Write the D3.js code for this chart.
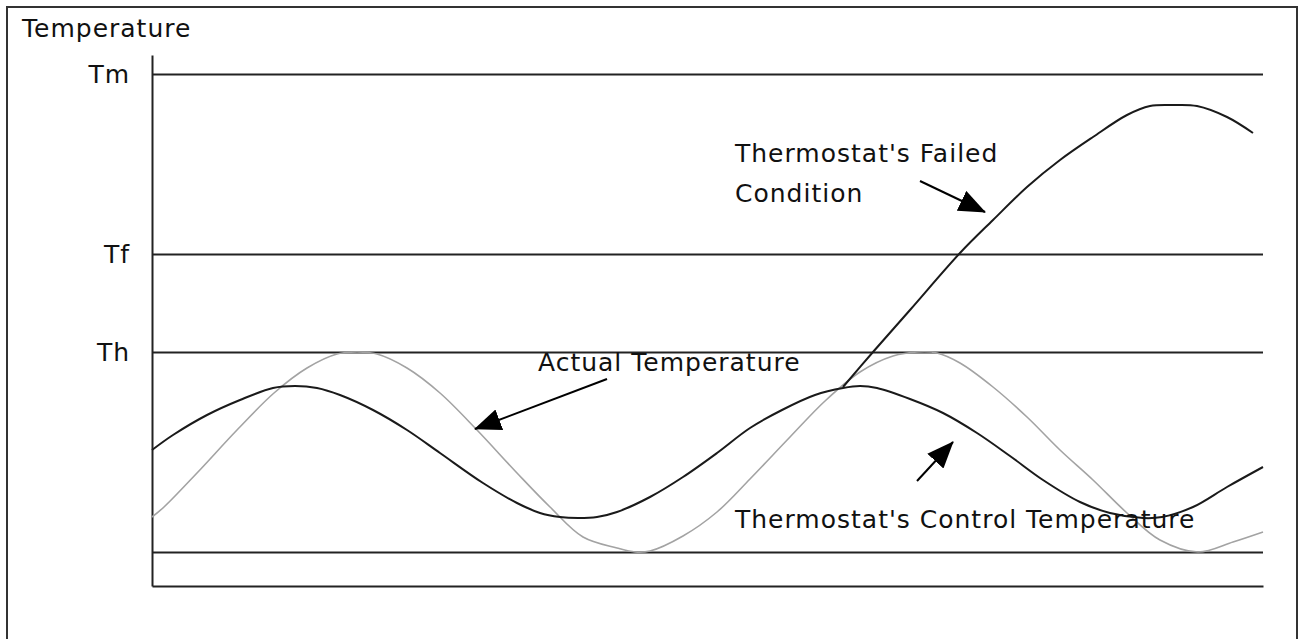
<!DOCTYPE html>
<html>
<head>
<meta charset="utf-8">
<script src="https://cdn.jsdelivr.net/npm/d3@7"></script>
<style>
    body { margin: 0; background: #fff; }
    #chart-area { width: 1302px; height: 639px; }
    text { font-family: "DejaVu Sans", sans-serif; font-size: 25px; letter-spacing: 1px; fill: #111; }
</style>
</head>
<body>
<div id="chart-area"></div>
<script>

// reference levels on the temperature axis
let levelValues = [102.4, 66.4, 46.8, 6.8];
let levelLabels = ["Tm", "Tf", "Th", ""];

// actual temperature (grey curve)
let actualX = [0, 1.2, 4.5, 8.5, 12.2, 15.5, 18.5, 20.5, 22.5, 25.5, 28.8, 32.5, 36.5, 39.8, 43.1, 46.5, 48.3, 49.8,
    53.1, 56.5, 59.8, 63.8, 67.3, 70.8, 74.1, 76.6, 78.5, 80.8, 84.1, 87.5, 90.8, 94.1, 97.5, 100.8, 104.6, 108.1, 111.1];
let actualY = [13.8, 15.8, 22.6, 31.2, 38.6, 43.6, 46.4, 46.8, 46.4, 43.6, 38.6, 31.2, 22.6, 15.8, 9.8, 7.6, 6.8, 7.0,
    10.0, 14.8, 21.4, 29.8, 37.0, 42.8, 46.0, 46.8, 46.6, 44.6, 39.8, 33.8, 27.2, 21.2, 14.6, 9.2, 6.8, 8.8, 10.8];

// thermostat's control temperature (black curve)
let controlX = [0, 2.1, 5.5, 8.8, 12.1, 14.3, 16.5, 18.8, 22.1, 25.5, 28.8, 33.1, 36.5, 38.8, 40.8, 42.6, 44.5, 46.5,
    49.8, 53.1, 56.5, 59.8, 63.0, 66.3, 69.1, 70.8, 72.5, 75.8, 79.1, 82.5, 85.8, 89.1, 92.8, 95.8, 99.1, 101.0, 104.1, 107.5, 111.1];
let controlY = [27.2, 30.2, 34.2, 37.2, 39.6, 40.0, 39.6, 38.2, 35.2, 31.2, 26.6, 20.6, 16.6, 14.6, 13.8, 13.6, 13.8, 14.8,
    17.8, 21.8, 26.6, 31.6, 35.2, 38.2, 39.6, 40.0, 39.6, 37.4, 34.6, 30.6, 26.0, 21.2, 16.8, 14.6, 13.6, 13.8, 15.8, 19.8, 23.8];

// thermostat's failed condition (branches off the control curve)
let failedX = [69.1, 72.1, 75.8, 80.8, 84.1, 87.5, 90.8, 94.1, 97.5, 99.8, 102.1, 104.5, 107.5, 110.1];
let failedY = [39.8, 46.8, 55.2, 66.6, 73.2, 79.8, 85.2, 89.8, 94.2, 96.0, 96.2, 96.0, 93.8, 90.6];

// annotations: text lines, text position, arrow start and tip (data units)
let noteLines = [["Thermostat's Failed", "Condition"], ["Actual Temperature"], ["Thermostat's Control Temperature"]];
let noteTextPos = [[58.3, 84.8], [38.6, 43.0], [58.3, 11.6]];
let noteArrowFrom = [[76.8, 81.0], [45.5, 41.4], [76.5, 21.0]];
let noteArrowTo = [[83.3, 74.8], [32.3, 31.4], [80.1, 28.8]];


class TempVis {

    constructor(parentElement) {
        this.parentElement = parentElement;
        this.initVis();
    }

    initVis() {
        let vis = this;

        vis.margin = { top: 55, right: 39, bottom: 53, left: 152 };
        vis.fullWidth = 1302;
        vis.fullHeight = 639;
        vis.width = vis.fullWidth - vis.margin.left - vis.margin.right;
        vis.height = vis.fullHeight - vis.margin.top - vis.margin.bottom;

        vis.svg = d3.select("#" + vis.parentElement)
            .append("svg")
            .attr("width", vis.fullWidth)
            .attr("height", vis.fullHeight);

        // outer frame
        vis.svg.append("rect")
            .attr("x", 7)
            .attr("y", 7)
            .attr("width", 1290)
            .attr("height", 660)
            .attr("fill", "none")
            .attr("stroke", "#333")
            .attr("stroke-width", 2);

        vis.svg.append("text")
            .attr("x", 22)
            .attr("y", 37)
            .text("Temperature");

        // arrowhead
        vis.svg.append("defs")
            .append("marker")
            .attr("id", "head")
            .attr("markerUnits", "userSpaceOnUse")
            .attr("viewBox", "0 0 27 22")
            .attr("markerWidth", 27)
            .attr("markerHeight", 22)
            .attr("refX", 26)
            .attr("refY", 11)
            .attr("orient", "auto")
            .append("path")
            .attr("d", "M0,0 L27,11 L0,22 Z")
            .attr("fill", "#000");

        vis.g = vis.svg.append("g")
            .attr("transform", `translate(${vis.margin.left}, ${vis.margin.top})`);

        vis.x = d3.scaleLinear().domain([0, 111.1]).range([0, vis.width]);
        vis.y = d3.scaleLinear().domain([0, 106.2]).range([vis.height, 0]);

        vis.wrangleData();
    }

    wrangleData() {
        let vis = this;

        vis.actual = actualX.map((d, i) => ({ x: d, y: actualY[i] }));
        vis.control = controlX.map((d, i) => ({ x: d, y: controlY[i] }));
        vis.failed = failedX.map((d, i) => ({ x: d, y: failedY[i] }));

        vis.notes = noteLines.map((d, i) => ({
            lines: d,
            pos: noteTextPos[i],
            from: noteArrowFrom[i],
            to: noteArrowTo[i]
        }));

        vis.updateVis();
    }

    updateVis() {
        let vis = this;

        // y axis with level lines across the plot
        let yAxis = d3.axisLeft(vis.y)
            .tickValues(levelValues)
            .tickFormat((d, i) => levelLabels[i])
            .tickSize(-vis.width)
            .tickSizeOuter(0)
            .tickPadding(22);

        let yG = vis.g.append("g").attr("class", "y-axis").call(yAxis);
        yG.selectAll("line, path").attr("stroke", "#222").attr("stroke-width", 2);
        yG.selectAll("text")
            .attr("fill", "#111")
            .style("font-family", "DejaVu Sans, sans-serif")
            .style("font-size", "25px");

        let xAxis = d3.axisBottom(vis.x).tickValues([]).tickSizeOuter(0);
        vis.g.append("g")
            .attr("class", "x-axis")
            .attr("transform", `translate(0, ${vis.height})`)
            .call(xAxis)
            .select("path")
            .attr("stroke", "#222")
            .attr("stroke-width", 2);

        let line = d3.line()
            .x(d => vis.x(d.x))
            .y(d => vis.y(d.y))
            .curve(d3.curveCatmullRom.alpha(0.5));

        vis.g.append("path")
            .datum(vis.actual)
            .attr("class", "actual")
            .attr("fill", "none")
            .attr("stroke", "#a3a3a3")
            .attr("stroke-width", 1.6)
            .attr("d", line);

        vis.g.selectAll(".black-line")
            .data([vis.control, vis.failed])
            .enter()
            .append("path")
            .attr("class", "black-line")
            .attr("fill", "none")
            .attr("stroke", "#1a1a1a")
            .attr("stroke-width", 2)
            .attr("d", line);

        // annotations
        let notes = vis.g.selectAll(".note")
            .data(vis.notes)
            .enter()
            .append("g")
            .attr("class", "note");

        notes.append("line")
            .attr("x1", d => vis.x(d.from[0]))
            .attr("y1", d => vis.y(d.from[1]))
            .attr("x2", d => vis.x(d.to[0]))
            .attr("y2", d => vis.y(d.to[1]))
            .attr("stroke", "#000")
            .attr("stroke-width", 2)
            .attr("marker-end", "url(#head)");

        notes.each(function (d) {
            d3.select(this).selectAll("text")
                .data(d.lines)
                .enter()
                .append("text")
                .attr("x", vis.x(d.pos[0]))
                .attr("y", (t, i) => vis.y(d.pos[1]) + i * 40)
                .text(t => t);
        });
    }
}

let tempVis = new TempVis("chart-area");

</script>
</body>
</html>
